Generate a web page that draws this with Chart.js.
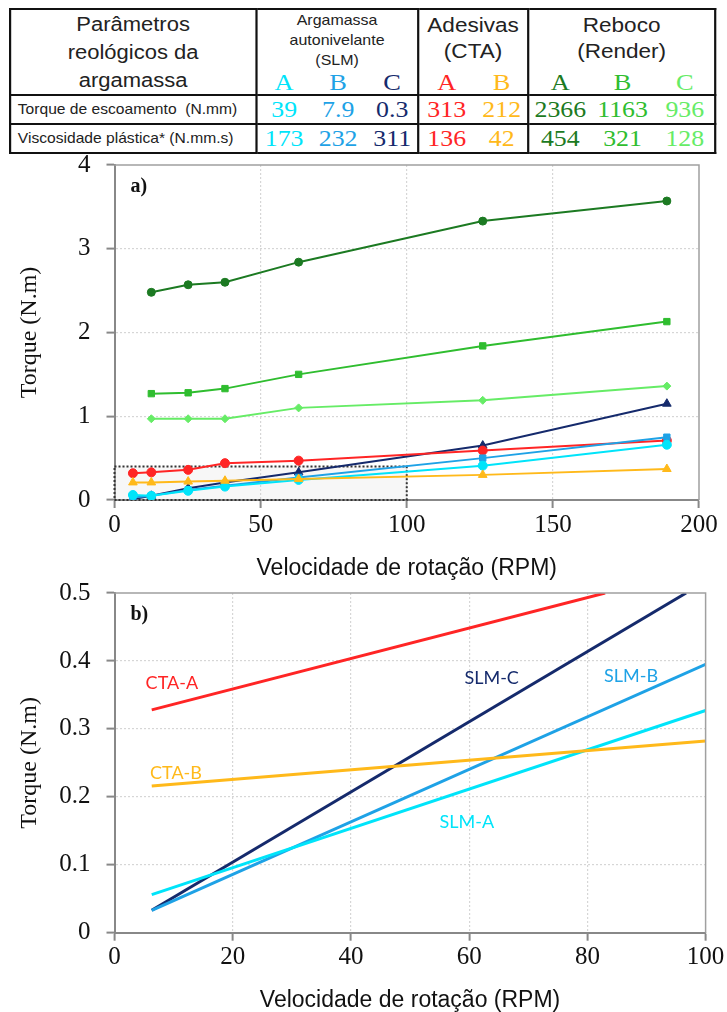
<!DOCTYPE html>
<html><head><meta charset="utf-8">
<script src="https://cdn.jsdelivr.net/npm/chart.js@4.4.0/dist/chart.umd.min.js"></script>
<style>
html,body{margin:0;padding:0;background:#fff;}
body{width:727px;height:1012px;position:relative;overflow:hidden;}
#tbl{position:absolute;left:9px;top:8px;width:641px;transform:scaleX(1.1);transform-origin:0 0;}
table{border-collapse:collapse;width:641px;table-layout:fixed;}
td{border:2px solid #111;padding:0;text-align:center;vertical-align:top;position:relative;overflow:hidden;}
tr.hdr td{height:82px;}
tr.val td{height:27px;}
.h1{font-family:"Liberation Sans",Arial,sans-serif;font-size:20px;line-height:28px;color:#222;}
.gs{font-family:"Liberation Sans",Arial,sans-serif;font-size:14.5px;line-height:20px;color:#222;}
.gm{font-family:"Liberation Sans",Arial,sans-serif;font-size:20.5px;line-height:26px;color:#222;padding-top:2px;}
.letters{position:absolute;left:0;right:0;top:58px;display:flex;font-family:"Liberation Serif","Times New Roman",serif;font-size:24px;line-height:28px;}
.letters span,.vals span{flex:0 0 auto;text-align:center;}
.vals{display:flex;font-family:"Liberation Serif","Times New Roman",serif;font-size:23.5px;line-height:27px;}
.rl{font-family:"Liberation Sans",Arial,sans-serif;font-size:14.2px;line-height:27px;text-align:left;padding-left:6px;color:#222;white-space:nowrap;}
canvas{position:absolute;left:0;}
#ca{top:134px;}
#cb{top:562px;}
</style>
</head><body>
<div id="tbl">
<table>
<colgroup><col style="width:223.6px"><col style="width:147.3px"><col style="width:100px"><col style="width:170.1px"></colgroup>
<tr class="hdr">
 <td class="h1"><div>Parâmetros</div><div>reológicos da</div><div>argamassa</div></td>
 <td><div class="gs">Argamassa<br>autonivelante<br>(SLM)</div><div class="letters" id="l0"></div></td>
 <td><div class="gm">Adesivas<br>(CTA)</div><div class="letters" id="l1"></div></td>
 <td><div class="gm">Reboco<br>(Render)</div><div class="letters" id="l2"></div></td>
</tr>
<tr class="val">
 <td class="rl" id="r1label"></td>
 <td><div class="vals" id="v10"></div></td>
 <td><div class="vals" id="v11"></div></td>
 <td><div class="vals" id="v12"></div></td>
</tr>
<tr class="val">
 <td class="rl" id="r2label"></td>
 <td><div class="vals" id="v20"></div></td>
 <td><div class="vals" id="v21"></div></td>
 <td><div class="vals" id="v22"></div></td>
</tr>
</table>
</div>
<canvas id="ca" width="727" height="456" style="width:727px;height:456px"></canvas>
<canvas id="cb" width="727" height="460" style="width:727px;height:460px"></canvas>
<script>
// ---------------- DATA ----------------
const groupNames = ['SLM', 'CTA', 'Render'];
const groupLetters = [['A','B','C'], ['A','B'], ['A','B','C']];
const rowLabels = ['Torque de escoamento\u00a0\u00a0(N.mm)', 'Viscosidade plástica*\u00a0(N.mm.s)'];
const yieldTorque = [['39','7.9','0.3'], ['313','212'], ['2366','1163','936']];
const plasticViscosity = [['173','232','311'], ['136','42'], ['454','321','128']];

// chart a) measured torque vs rotation speed
const rpm = [6.3, 12.6, 25.2, 37.8, 63, 126, 189];
const rpmRender = [12.6, 25.2, 37.8, 63, 126, 189];
const torqueSLM_A = [0.06, 0.05, 0.11, 0.16, 0.24, 0.41, 0.66];
const torqueSLM_B = [0.03, 0.05, 0.12, 0.17, 0.27, 0.50, 0.75];
const torqueSLM_C = [0.01, 0.05, 0.14, 0.21, 0.33, 0.65, 1.15];
const torqueCTA_A = [0.32, 0.33, 0.36, 0.44, 0.47, 0.59, 0.71];
const torqueCTA_B = [0.21, 0.21, 0.22, 0.23, 0.25, 0.30, 0.37];
const torqueRender_A = [2.48, 2.57, 2.60, 2.84, 3.33, 3.57];
const torqueRender_B = [1.27, 1.28, 1.33, 1.50, 1.84, 2.13];
const torqueRender_C = [0.97, 0.97, 0.97, 1.10, 1.19, 1.36];
const ticksA_x = [0, 50, 100, 150, 200];
const ticksA_y = [0, 1, 2, 3, 4];

// chart b) fitted lines (visible end points)
const fitCTA_A_x = [6.3, 83.0],  fitCTA_A_y = [0.328, 0.5];
const fitCTA_B_x = [6.3, 100],   fitCTA_B_y = [0.216, 0.282];
const fitSLM_A_x = [6.3, 100],   fitSLM_A_y = [0.056, 0.327];
const fitSLM_B_x = [6.3, 100],   fitSLM_B_y = [0.033, 0.395];
const fitSLM_C_x = [6.3, 96.7],  fitSLM_C_y = [0.033, 0.5];
const fitNames = ['CTA-A', 'CTA-B', 'SLM-C', 'SLM-B', 'SLM-A'];
const ticksB_x = [0, 20, 40, 60, 80, 100];
const ticksB_y = [0, 0.1, 0.2, 0.3, 0.4, 0.5];

// ---------------- STYLES ----------------
const COL = {
  SLM_A: '#00e4fa', SLM_B: '#1ea2e6', SLM_C: '#152a6c',
  CTA_A: '#ff2525', CTA_B: '#ffb91a',
  R_A: '#1c7a22', R_B: '#2fbd2f', R_C: '#66ec66'
};
const groupColors = [[COL.SLM_A, COL.SLM_B, COL.SLM_C], [COL.CTA_A, COL.CTA_B], [COL.R_A, COL.R_B, COL.R_C]];
const slotW = [49.1, 50, 56.6];
const slotPad = [0, 0, 0];

// ---------------- TABLE ----------------
function fillRow(prefix, arr) {
  arr.forEach((vals, g) => {
    const el = document.getElementById(prefix + g);
    el.style.paddingLeft = slotPad[g] + 'px';
    vals.forEach((v, i) => {
      const s = document.createElement('span');
      s.textContent = v; s.style.width = slotW[g] + 'px'; s.style.color = groupColors[g][i];
      el.appendChild(s);
    });
  });
}
fillRow('l', groupLetters);
fillRow('v1', yieldTorque);
fillRow('v2', plasticViscosity);
document.getElementById('r1label').textContent = rowLabels[0];
document.getElementById('r2label').textContent = rowLabels[1];

// ---------------- CHARTS ----------------
const pts = (xs, ys) => xs.map((x, i) => ({x: x, y: ys[i]}));
const serif = '"Liberation Serif", "Times New Roman", serif';
const sans = '"Liberation Sans", Arial, sans-serif';

const framePlugin = {
  id: 'frame',
  beforeDatasetsDraw(chart, args, opts) {
    const {ctx, chartArea: a, scales: {x, y}} = chart;
    if (opts.box) {
      const b = opts.box;
      const x0 = x.getPixelForValue(b.x0), x1 = x.getPixelForValue(b.x1);
      const y0 = y.getPixelForValue(b.y0), y1 = y.getPixelForValue(b.y1);
      ctx.save();
      ctx.fillStyle = 'rgba(210,210,210,0.18)';
      ctx.fillRect(x0, y1, x1 - x0, y0 - y1);
      ctx.setLineDash([2, 2]);
      ctx.strokeStyle = '#333'; ctx.lineWidth = 2;
      ctx.strokeRect(x0, y1, x1 - x0, y0 - y1);
      ctx.restore();
    }
  },
  afterDatasetsDraw(chart, args, opts) {
    const {ctx, chartArea: a} = chart;
    ctx.save();
    ctx.strokeStyle = '#a0a0a0'; ctx.lineWidth = 1.5;
    ctx.beginPath();
    ctx.moveTo(a.left, a.top); ctx.lineTo(a.right, a.top); ctx.lineTo(a.right, a.bottom);
    ctx.stroke();
    ctx.restore();
    if (opts.panel) {
      ctx.save();
      ctx.font = 'bold 20px ' + serif; ctx.fillStyle = '#111';
      ctx.textBaseline = 'middle'; ctx.textAlign = 'left';
      ctx.fillText(opts.panel, a.left + 16, a.top + 22);
      ctx.restore();
    }
    if (opts.labels) {
      const {x, y} = chart.scales;
      ctx.save();
      ctx.font = '18px Lato, "Open Sans", sans-serif';
      ctx.textAlign = 'center'; ctx.textBaseline = 'middle';
      opts.labels.forEach(l => {
        ctx.fillStyle = l.color;
        ctx.fillText(l.text, x.getPixelForValue(l.x), y.getPixelForValue(l.y));
      });
      ctx.restore();
    }
  }
};

function axes(xt, yt, xTitlePad, yW, xH) {
  const gridColor = (c) => (c.index === 0 || c.index === c.scale.ticks.length - 1) ? 'rgba(0,0,0,0)' : '#d6d6d6';
  return {
    x: {
      type: 'linear', min: xt[0], max: xt[xt.length - 1],
      afterBuildTicks: s => { s.ticks = xt.map(v => ({value: v})); },
      afterFit: s => { s.height = xH; },
      grid: {color: gridColor, lineWidth: 1.2, tickColor: '#888', tickLength: 8, tickWidth: 2, tickBorderDash: []},
      border: {color: '#888', width: 2, dash: [2, 2]},
      ticks: {font: {family: serif, size: 25}, color: '#111', padding: 2, maxRotation: 0},
      title: {display: true, text: 'Velocidade de rotação (RPM)', font: {family: sans, size: 23}, color: '#111', padding: {top: 0, bottom: xTitlePad}}
    },
    y: {
      type: 'linear', min: yt[0], max: yt[yt.length - 1],
      afterBuildTicks: s => { s.ticks = yt.map(v => ({value: v})); },
      afterFit: s => { s.width = yW; },
      grid: {color: gridColor, lineWidth: 1.2, tickColor: '#888', tickLength: 8, tickWidth: 2, tickBorderDash: []},
      border: {color: '#888', width: 2, dash: [2, 2]},
      ticks: {font: {family: serif, size: 25}, color: '#111', padding: 16, callback: v => String(+v.toFixed(2))},
      title: {display: true, text: 'Torque (N.m)', font: {family: serif, size: 24}, color: '#111', padding: {top: 15, bottom: 0}}
    }
  };
}

function ds(label, xs, ys, color, style, r) {
  return {label, data: pts(xs, ys), borderColor: color, backgroundColor: color, borderWidth: 2,
    pointStyle: style, pointRadius: r, pointHoverRadius: r, pointBorderWidth: 1, tension: 0};
}

new Chart(document.getElementById('ca'), {
  type: 'line',
  data: {datasets: [
    ds('Reboco A', rpmRender, torqueRender_A, COL.R_A, 'circle', 4),
    ds('Reboco B', rpmRender, torqueRender_B, COL.R_B, 'rect', 4.5),
    ds('Reboco C', rpmRender, torqueRender_C, COL.R_C, 'rectRot', 4),
    ds('CTA-B', rpm, torqueCTA_B, COL.CTA_B, 'triangle', 5),
    ds('SLM-A', rpm, torqueSLM_A, COL.SLM_A, 'circle', 4.5),
    ds('SLM-B', rpm, torqueSLM_B, COL.SLM_B, 'rect', 4.5),
    ds('CTA-A', rpm, torqueCTA_A, COL.CTA_A, 'circle', 4.5),
    ds('SLM-C', rpm, torqueSLM_C, COL.SLM_C, 'triangle', 5)
  ]},
  options: {
    responsive: false, animation: false, devicePixelRatio: 1,
    layout: {padding: {top: 0, right: 28, bottom: 0, left: 0}},
    plugins: {legend: {display: false}, tooltip: {enabled: false},
      frame: {panel: 'a)', box: {x0: 0, x1: 100, y0: 0, y1: 0.4}}},
    scales: axes(ticksA_x, ticksA_y, 8, 114.5, 90)
  },
  plugins: [framePlugin]
});

const fitColors = [COL.CTA_A, COL.CTA_B, COL.SLM_C, COL.SLM_B, COL.SLM_A];
const labelPos = [[9.7, 0.367], [10.4, 0.235], [63.8, 0.375], [87.4, 0.378], [59.6, 0.162]];
function fit(label, xs, ys, color) {
  return {label, data: pts(xs, ys), borderColor: color, backgroundColor: color, borderWidth: 3, pointRadius: 0, tension: 0};
}
new Chart(document.getElementById('cb'), {
  type: 'line',
  data: {datasets: [
    fit('CTA-B', fitCTA_B_x, fitCTA_B_y, COL.CTA_B),
    fit('SLM-A', fitSLM_A_x, fitSLM_A_y, COL.SLM_A),
    fit('SLM-B', fitSLM_B_x, fitSLM_B_y, COL.SLM_B),
    fit('SLM-C', fitSLM_C_x, fitSLM_C_y, COL.SLM_C),
    fit('CTA-A', fitCTA_A_x, fitCTA_A_y, COL.CTA_A)
  ]},
  options: {
    responsive: false, animation: false, devicePixelRatio: 1,
    layout: {padding: {top: 0, right: 21.4, bottom: 0, left: 0}},
    plugins: {legend: {display: false}, tooltip: {enabled: false},
      frame: {panel: 'b)', labels: fitNames.map((n, i) => ({text: n, color: fitColors[i], x: labelPos[i][0], y: labelPos[i][1]}))}},
    scales: axes(ticksB_x, ticksB_y, 8, 114.5, 89.3)
  },
  plugins: [framePlugin]
});
</script>
</body></html>
